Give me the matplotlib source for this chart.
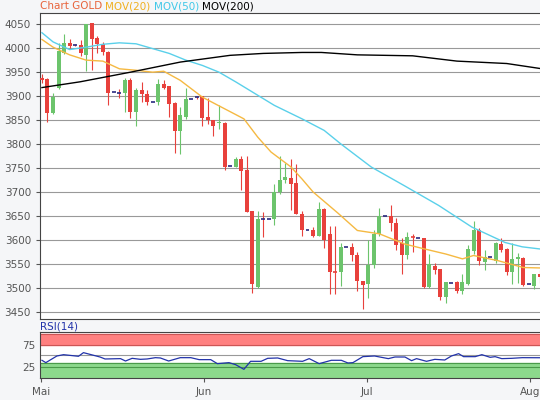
import matplotlib
matplotlib.use("Agg")
import matplotlib.pyplot as plt
import numpy as np

opens  = [3937,3934,3864,3917,3988,4010,4005,4005,3984,4051,4019,4008,3991,3907,3906,3906,3932,3866,3912,3904,3886,3886,3924,3920,3885,3826,3856,3894,3896,3899,3856,3850,3843,3843,3753,3752,3769,3745,3661,3502,3644,3644,3644,3700,3724,3729,3718,3654,3621,3622,3609,3665,3613,3534,3533,3585,3586,3568,3516,3508,3548,3613,3651,3651,3635,3594,3568,3607,3605,3604,3502,3547,3540,3481,3510,3512,3495,3509,3578,3621,3555,3564,3557,3592,3581,3533,3560,3562,3509,3505,3530]
highs  = [3945,3937,3905,4010,4029,4018,4008,4015,4050,4052,4024,4012,3994,3909,3915,3936,3936,3917,3928,3912,3888,3935,3932,3921,3886,3876,3917,3896,3900,3900,3895,3850,3880,3845,3755,3772,3775,3775,3661,3660,3658,3646,3716,3775,3761,3768,3758,3660,3623,3628,3680,3667,3630,3630,3594,3587,3594,3576,3516,3600,3621,3667,3653,3672,3645,3605,3617,3612,3607,3605,3571,3552,3540,3513,3512,3514,3530,3590,3640,3626,3579,3566,3597,3605,3583,3594,3574,3564,3511,3530,3538]
lows   = [3927,3845,3862,3915,3986,3998,4003,3982,3951,3954,3988,3985,3880,3905,3896,3867,3853,3838,3888,3881,3884,3880,3915,3855,3781,3778,3852,3892,3894,3838,3842,3817,3830,3745,3751,3752,3705,3658,3490,3500,3606,3642,3632,3695,3718,3663,3654,3608,3619,3607,3608,3583,3488,3488,3504,3583,3556,3494,3456,3479,3542,3608,3649,3618,3579,3529,3560,3576,3603,3500,3500,3530,3476,3470,3508,3490,3488,3506,3572,3549,3537,3562,3553,3575,3527,3508,3510,3505,3507,3498,3510]
closes = [3932,3864,3897,3994,4010,4003,4005,3988,4050,4019,4007,3990,3906,3907,3906,3932,3866,3913,3904,3886,3886,3924,3917,3883,3826,3859,3894,3894,3897,3853,3850,3838,3846,3752,3753,3769,3743,3658,3509,3644,3644,3644,3700,3724,3731,3717,3654,3621,3621,3609,3665,3601,3533,3532,3585,3585,3568,3516,3507,3549,3613,3651,3651,3635,3590,3568,3607,3605,3605,3502,3550,3538,3481,3512,3510,3495,3512,3581,3621,3557,3564,3564,3593,3579,3533,3561,3564,3507,3509,3529,3524]

mov20_idx = [0,2,5,8,11,14,17,20,22,25,29,33,36.5,39,41.4,45,47,49,53.5,57,61,65.5,69,73,76,78,82.5,87,90.4]
mov20_val = [4017,4001,3985,3974,3972,3956,3953,3949,3951,3932,3897,3873,3852,3814,3783,3752,3727,3700,3656,3620,3613,3592,3582,3571,3561,3568,3557,3543,3542]
mov50_idx = [0,2,5,8,11,14,17,20,23,26,29,32,35,39,42,47,51,54,59.5,65.5,71.7,77.7,83.7,86.8,90.4]
mov50_val = [4031,4012,3996,4001,4007,4010,4008,3998,3988,3974,3963,3949,3929,3901,3880,3852,3828,3800,3752,3713,3672,3627,3595,3586,3581]
mov200_idx = [0,6.9,16,25,34,40,47,50.5,57,67,75,84,90.4]
mov200_val = [3917,3929,3949,3970,3984,3988,3990,3990,3985,3983,3972,3967,3956]

rsi_idx = [0,0.7,2.7,3.9,6.6,7.5,10.5,11.4,14.2,15.1,16.3,17.8,19,20.5,21.4,22.9,25,26.9,28.4,30.5,31.7,33.8,35,36.5,37.7,39.6,40.8,42.6,44.4,47.1,48.3,50.1,52.3,54.1,55.3,56.2,58,60.1,62.6,63.8,65.6,66.8,67.7,69.5,71,72.8,74,75.3,76.2,78.3,79.5,81,81.9,83.1,84.9,86.8,90.4]
rsi_val = [40.2,34.9,50,53,49.3,57.6,47.7,43.2,44,38.6,44.7,42.4,43.2,46.2,45.5,38.6,46.2,46.2,41.7,41.7,32.6,34.9,30.3,19.7,37.9,37.9,44.7,45.5,39.4,37.9,44,32.6,40.2,40.2,34.1,34.9,48.5,50,44,47.7,47.7,39.4,44,37.9,42.4,40.9,50,55.3,48.5,48.5,53,47,48.5,44,44.7,46.2,46]

month_pos = [-0.2,29.2,58.8,88.2]
month_lab = ["Mai","Jun","Jul","Aug"]

RED = "#e8413c"; GREEN = "#6cc46c"; DOJI = "#2a2a80"; GRAY = "#555555"

fig = plt.figure(figsize=(5.4,4.0), dpi=100, facecolor="#f5f6f8")
ax = fig.add_axes([0.074,0.2025,0.93,0.765])
ax2 = fig.add_axes([0.074,0.055,0.93,0.115], sharex=ax)
for a in (ax, ax2):
    a.set_facecolor("white")
    for s in a.spines.values():
        s.set_color("#444444"); s.set_linewidth(0.8)

for i,(o,h,l,c) in enumerate(zip(opens,highs,lows,closes)):
    if abs(c-o) < 2.5:
        col = DOJI if abs(c-o) < 1.5 else (GREEN if c > o else RED)
        if h-l > 4:
            ax.vlines(i, l, h, color=col if col != DOJI else RED, lw=0.8, zorder=3)
        ax.hlines((o+c)/2, i-0.35, i+0.35, color=col, lw=1.2, zorder=4)
    else:
        col = GREEN if c > o else RED
        ax.vlines(i, l, h, color=col, lw=0.8, zorder=3)
        ax.bar(i, abs(c-o), bottom=min(o,c), width=0.72, color=col, zorder=4, linewidth=0)

ax.plot(mov20_idx, mov20_val, color="#f5b942", lw=1.0, zorder=5)
ax.plot(mov50_idx, mov50_val, color="#5ad0ea", lw=1.0, zorder=5)
ax.plot(mov200_idx, mov200_val, color="black", lw=1.0, zorder=5)

ax.set_xlim(-0.36, 90.4)
ax.set_ylim(3436, 4072)
ax.set_yticks(np.arange(3450, 4051, 50))
ax.yaxis.grid(True, color="#999999", lw=0.8)
ax.set_axisbelow(True)
ax.tick_params(axis="y", labelsize=7.5, colors=GRAY, length=3)
ax.tick_params(axis="x", length=0, labelbottom=False)

fs = 7.5
t = ax.text(0.0, 1.005, "Chart GOLD ", transform=ax.transAxes, color="#e8643c", fontsize=fs, va="bottom")
colors_t = [("MOV(20) ", "#f0b020"), ("MOV(50) ", "#40c8e8"), ("MOV(200)", "black")]
fig.canvas.draw()
prev = t
for txt, col in colors_t:
    prev = ax.annotate(txt, xycoords=prev, xy=(1, 0), va="bottom", color=col, fontsize=fs)
    fig.canvas.draw()

ax2.axhspan(75, 100, color="#ff8080", zorder=1)
ax2.axhspan(0, 33, color="#8cd98c", zorder=1)
ax2.axhline(75, color="#cc5555", lw=0.8, zorder=2)
ax2.axhline(100, color="#cc5555", lw=0.8, zorder=2)
ax2.axhline(25, color="#4a9a4a", lw=0.8, zorder=2)
ax2.axhline(33, color="#4a9a4a", lw=0.8, zorder=2)
ax2.axhline(52, color="#999999", lw=0.8, zorder=2)
ax2.plot(rsi_idx, rsi_val, color="#2233aa", lw=0.9, zorder=3)
ax2.set_ylim(0, 104.5)
ax2.set_yticks([25, 75])
ax2.tick_params(axis="y", labelsize=7.5, colors=GRAY, length=0)
ax2.set_xticks(month_pos)
ax2.set_xticklabels(month_lab)
ax2.tick_params(axis="x", labelsize=7.5, colors=GRAY, length=3)
ax2.text(0.0, 1.02, "RSI(14)", transform=ax2.transAxes, color="#2233aa", fontsize=fs, va="bottom")

fig.savefig("out.png", dpi=100, facecolor=fig.get_facecolor())
